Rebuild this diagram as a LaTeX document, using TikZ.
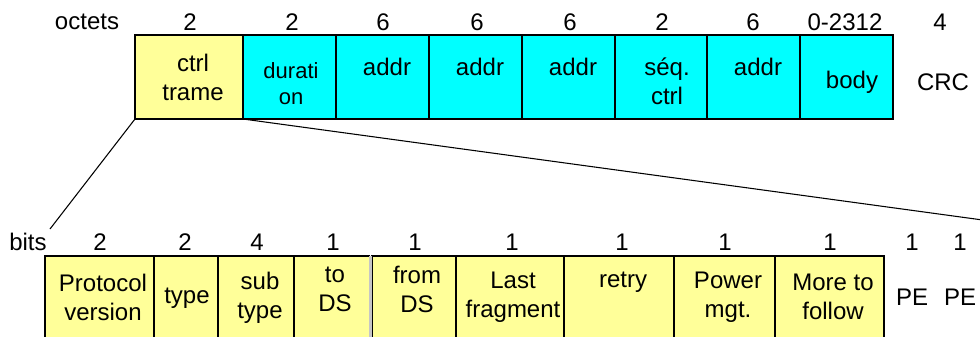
\documentclass[tikz,border=0pt]{standalone}
\usepackage{fontspec}
\setmainfont{Liberation Sans}
\usetikzlibrary{positioning}
\definecolor{jaune}{HTML}{FFFF99}
\definecolor{turquoise}{HTML}{00FFFF}

\begin{document}
\begin{tikzpicture}[x=0.75pt, y=-0.75pt,
  font=\fontsize{18}{21.75}\selectfont,
  champ/.style={draw, line width=1.1pt, rectangle, outer sep=0pt,
    inner sep=0pt, minimum height=63pt},
  ctrl/.style={champ, fill=jaune},
  trame/.style={champ, fill=turquoise, minimum width=69.75pt},
  bit/.style={champ, fill=jaune, minimum height=67.5pt},
  txt/.style={align=center, inner sep=0pt},
  lien/.style={line width=0.8pt}]
\clip (0,0) rectangle (980,336);
% Trame MAC : champs en octets
\node[ctrl, minimum width=81pt] (ctrl) at (189,77) {};
\node[trame, right=0pt of ctrl] (duree) {};
\node[trame, right=0pt of duree] (addrA) {};
\node[trame, right=0pt of addrA] (addrB) {};
\node[trame, right=0pt of addrB] (addrC) {};
\node[trame, minimum width=69pt, right=0pt of addrC] (seq) {};
\node[trame, right=0pt of seq] (addrD) {};
\node[trame, right=0pt of addrD] (body) {};
\node[txt] (tCtrl) at (193,77.5) {ctrl\\trame};
\node[txt, font=\fontsize{16.5}{19.5}\selectfont] (tDuree) at (291,84) {durati\\on};
\node[txt] (tAddrA) at (387,67) {addr};
\node[txt] (tAddrB) at (480,67) {addr};
\node[txt] (tAddrC) at (573,67) {addr};
\node[txt] (tSeq) at (667,81) {séq.\\ctrl};
\node[txt] (tAddrD) at (758,67) {addr};
\node[txt] (tBody) at (852,82) {body};
\node[txt] (tCrc) at (943,82) {CRC};
% Tailles en octets
\node[txt] (octets) at (87,22) {octets};
\node[txt] (oCtrl) at (190,22) {2};
\node[txt] (oDuree) at (292,22) {2};
\node[txt] (oAddrA) at (383,22) {6};
\node[txt] (oAddrB) at (477,22) {6};
\node[txt] (oAddrC) at (570,22) {6};
\node[txt] (oSeq) at (662,22) {2};
\node[txt] (oAddrD) at (753,22) {6};
\node[txt] (oBody) at (845,22) {0-2312};
\node[txt] (oCrc) at (940,22) {4};
% Detail du champ ctrl trame, en bits
\node[bit, minimum width=81.75pt] (pv) at (99.5,301) {};
\node[bit, minimum width=48pt, right=0pt of pv] (type) {};
\node[bit, minimum width=57pt, right=0pt of type] (sub) {};
\node[bit, minimum width=56.6pt, right=0pt of sub] (tods) {};
\node[bit, minimum width=63pt, right=1.9pt of tods] (fromds) {};
\node[bit, minimum width=81pt, right=0pt of fromds] (last) {};
\node[bit, minimum width=82.5pt, right=0pt of last] (retry) {};
\node[bit, minimum width=75.75pt, right=0pt of retry] (power) {};
\node[bit, minimum width=81.75pt, right=0pt of power] (more) {};
\fill[gray!45] (tods.north east) rectangle (fromds.south west);
\node[txt] (tPv) at (103,297.5) {Protocol\\version};
\node[txt] (tType) at (187,298) {type};
\node[txt] (tSub) at (260,297.5) {sub\\type};
\node[txt] (tTods) at (335,289.5) {to\\DS};
\node[txt] (tFromds) at (417,289.5) {from\\DS};
\node[txt] (tLast) at (513,297.5) {Last\\fragment};
\node[txt] (tRetry) at (623,282) {retry};
\node[txt] (tPower) at (728,297) {Power\\mgt.};
\node[txt] (tMore) at (833,297) {More to\\follow};
\node[txt] (tPeA) at (912,297) {PE};
\node[txt] (tPeB) at (960,297) {PE};
% Tailles en bits
\node[txt] (bits) at (28,242) {bits};
\node[txt] (bPv) at (100,242) {2};
\node[txt] (bType) at (185,242) {2};
\node[txt] (bSub) at (257,242) {4};
\node[txt] (bTods) at (333,242) {1};
\node[txt] (bFromds) at (415,242) {1};
\node[txt] (bLast) at (512,242) {1};
\node[txt] (bRetry) at (622,242) {1};
\node[txt] (bPower) at (725,242) {1};
\node[txt] (bMore) at (830,242) {1};
\node[txt] (bPeA) at (912,242) {1};
\node[txt] (bPeB) at (960,242) {1};
% Lignes de zoom
\coordinate (coinG) at (50,229);
\coordinate (coinD) at (990,221);
\draw[lien] (ctrl.south west) -- (coinG);
\draw[lien] (ctrl.south east) -- (coinD);
\end{tikzpicture}
\end{document}
